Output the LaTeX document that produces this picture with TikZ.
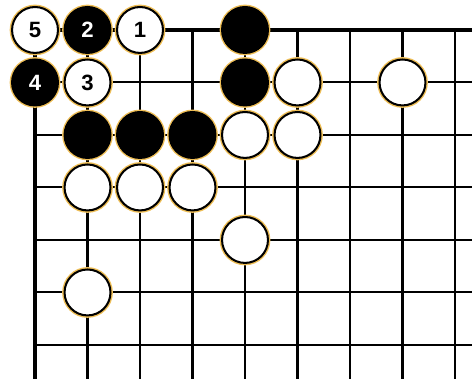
\documentclass[tikz,border=0pt]{standalone}
\usepackage{fontspec}
\setmainfont{Liberation Sans}
\begin{document}
\begin{tikzpicture}[x=1cm,y=1cm,
  stone/.style={circle,minimum size=0.875cm,inner sep=0pt,line width=1.1pt,draw=black,
    preaction={draw=halo,line width=2.6pt},font=\bfseries\fontsize{12}{12}\selectfont},
  wstone/.style={stone,fill=white,text=black},
  bstone/.style={stone,fill=black,text=white}]
\useasboundingbox (-0.667,0.571) rectangle (8.324,-6.648);
\clip (-0.667,0.571) rectangle (8.324,-6.648);

\definecolor{halo}{RGB}{238,190,86}

\foreach \x in {1,...,8}
  \draw[line width=1.1pt] (\x,0) -- (\x,-6.7);
\foreach \y in {1,...,6}
  \draw[line width=1.1pt] (0,-\y) -- (8.4,-\y);
\draw[line width=1.7pt] (8.4,0) -- (0,0) -- (0,-6.7);

\foreach \c/\r/\n in {1/2/a,2/2/b,3/2/c,4/0/d,4/1/e}
  \node[bstone] (b\n) at (\c,-\r) {};
\foreach \c/\r/\n in {5/1/a,7/1/b,4/2/c,5/2/d,1/3/e,2/3/f,3/3/g,4/4/h,1/5/i}
  \node[wstone] (w\n) at (\c,-\r) {};

\node[wstone] (m1) at (2,0) {1};
\node[bstone] (m2) at (1,0) {2};
\node[wstone] (m3) at (1,-1) {3};
\node[bstone] (m4) at (0,-1) {4};
\node[wstone] (m5) at (0,0) {5};

\end{tikzpicture}
\end{document}
